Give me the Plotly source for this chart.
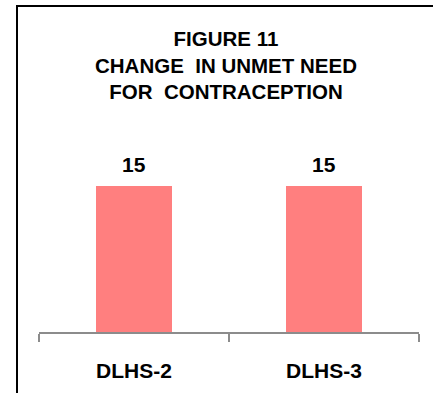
import plotly.graph_objects as go

categories = ["DLHS-2", "DLHS-3"]
values = [15, 15]
title_lines = ["FIGURE 11", "CHANGE  IN UNMET NEED", "FOR  CONTRACEPTION"]

W, H = 433, 393
ML, MR, MT, MB = 39, 14, 6, 61
plot_h = H - MT - MB
bar_px = 146
ymax = values[0] * plot_h / bar_px

FONT = "Liberation Sans, Arial, sans-serif"

fig = go.Figure()
fig.add_trace(go.Bar(
    x=categories, y=values,
    marker=dict(color="#FF7F7F", line=dict(width=0)),
    hoverinfo="skip",
))

for c, v in zip(categories, values):
    fig.add_annotation(
        x=c, y=v, xref="x", yref="y", text=f"<b>{v}</b>",
        showarrow=False, yanchor="bottom", yshift=8,
        font=dict(family=FONT, size=21, color="#000000"),
    )

pw = W - ML - MR
left = (17 - ML) / pw
fig.add_shape(
    type="line", xref="paper", yref="paper",
    x0=left, x1=left, y0=-(MB + 30) / plot_h, y1=1.0,
    line=dict(color="#000000", width=2), layer="above",
)
fig.add_shape(
    type="line", xref="paper", yref="paper",
    x0=left - 1 / pw, x1=(W - ML) / pw, y0=1.0, y1=1.0,
    line=dict(color="#000000", width=2), layer="above",
)

fig.update_layout(
    width=W, height=H,
    margin=dict(l=ML, r=MR, t=MT, b=MB, pad=0),
    paper_bgcolor="white", plot_bgcolor="white",
    bargap=0.6,
    showlegend=False,
    title=dict(
        text="<br>".join(f"<b>{t}</b>" for t in title_lines),
        x=(226) / W, xanchor="center", xref="container",
        y=1 - 46 / H, yanchor="top", yref="container",
        font=dict(family=FONT, size=20.5, color="#000000"),
    ),
    xaxis=dict(
        type="category", range=[-0.5, 1.5],
        showline=True, linecolor="#8C8C8C", linewidth=2,
        ticks="outside", ticklen=8, tickwidth=2, tickcolor="#8C8C8C",
        tickson="boundaries", ticklabelstandoff=19,
        tickfont=dict(family=FONT, size=21, color="#000000", weight="bold"),
        showgrid=False, zeroline=False, fixedrange=True,
    ),
    yaxis=dict(
        range=[0, ymax], visible=False, showgrid=False, zeroline=False,
        fixedrange=True,
    ),
)

fig.write_html(
    "out.html",
    config={"displayModeBar": False},
    post_script="document.documentElement.style.overflow='hidden';document.body.style.overflow='hidden';document.body.style.margin='0';",
)
